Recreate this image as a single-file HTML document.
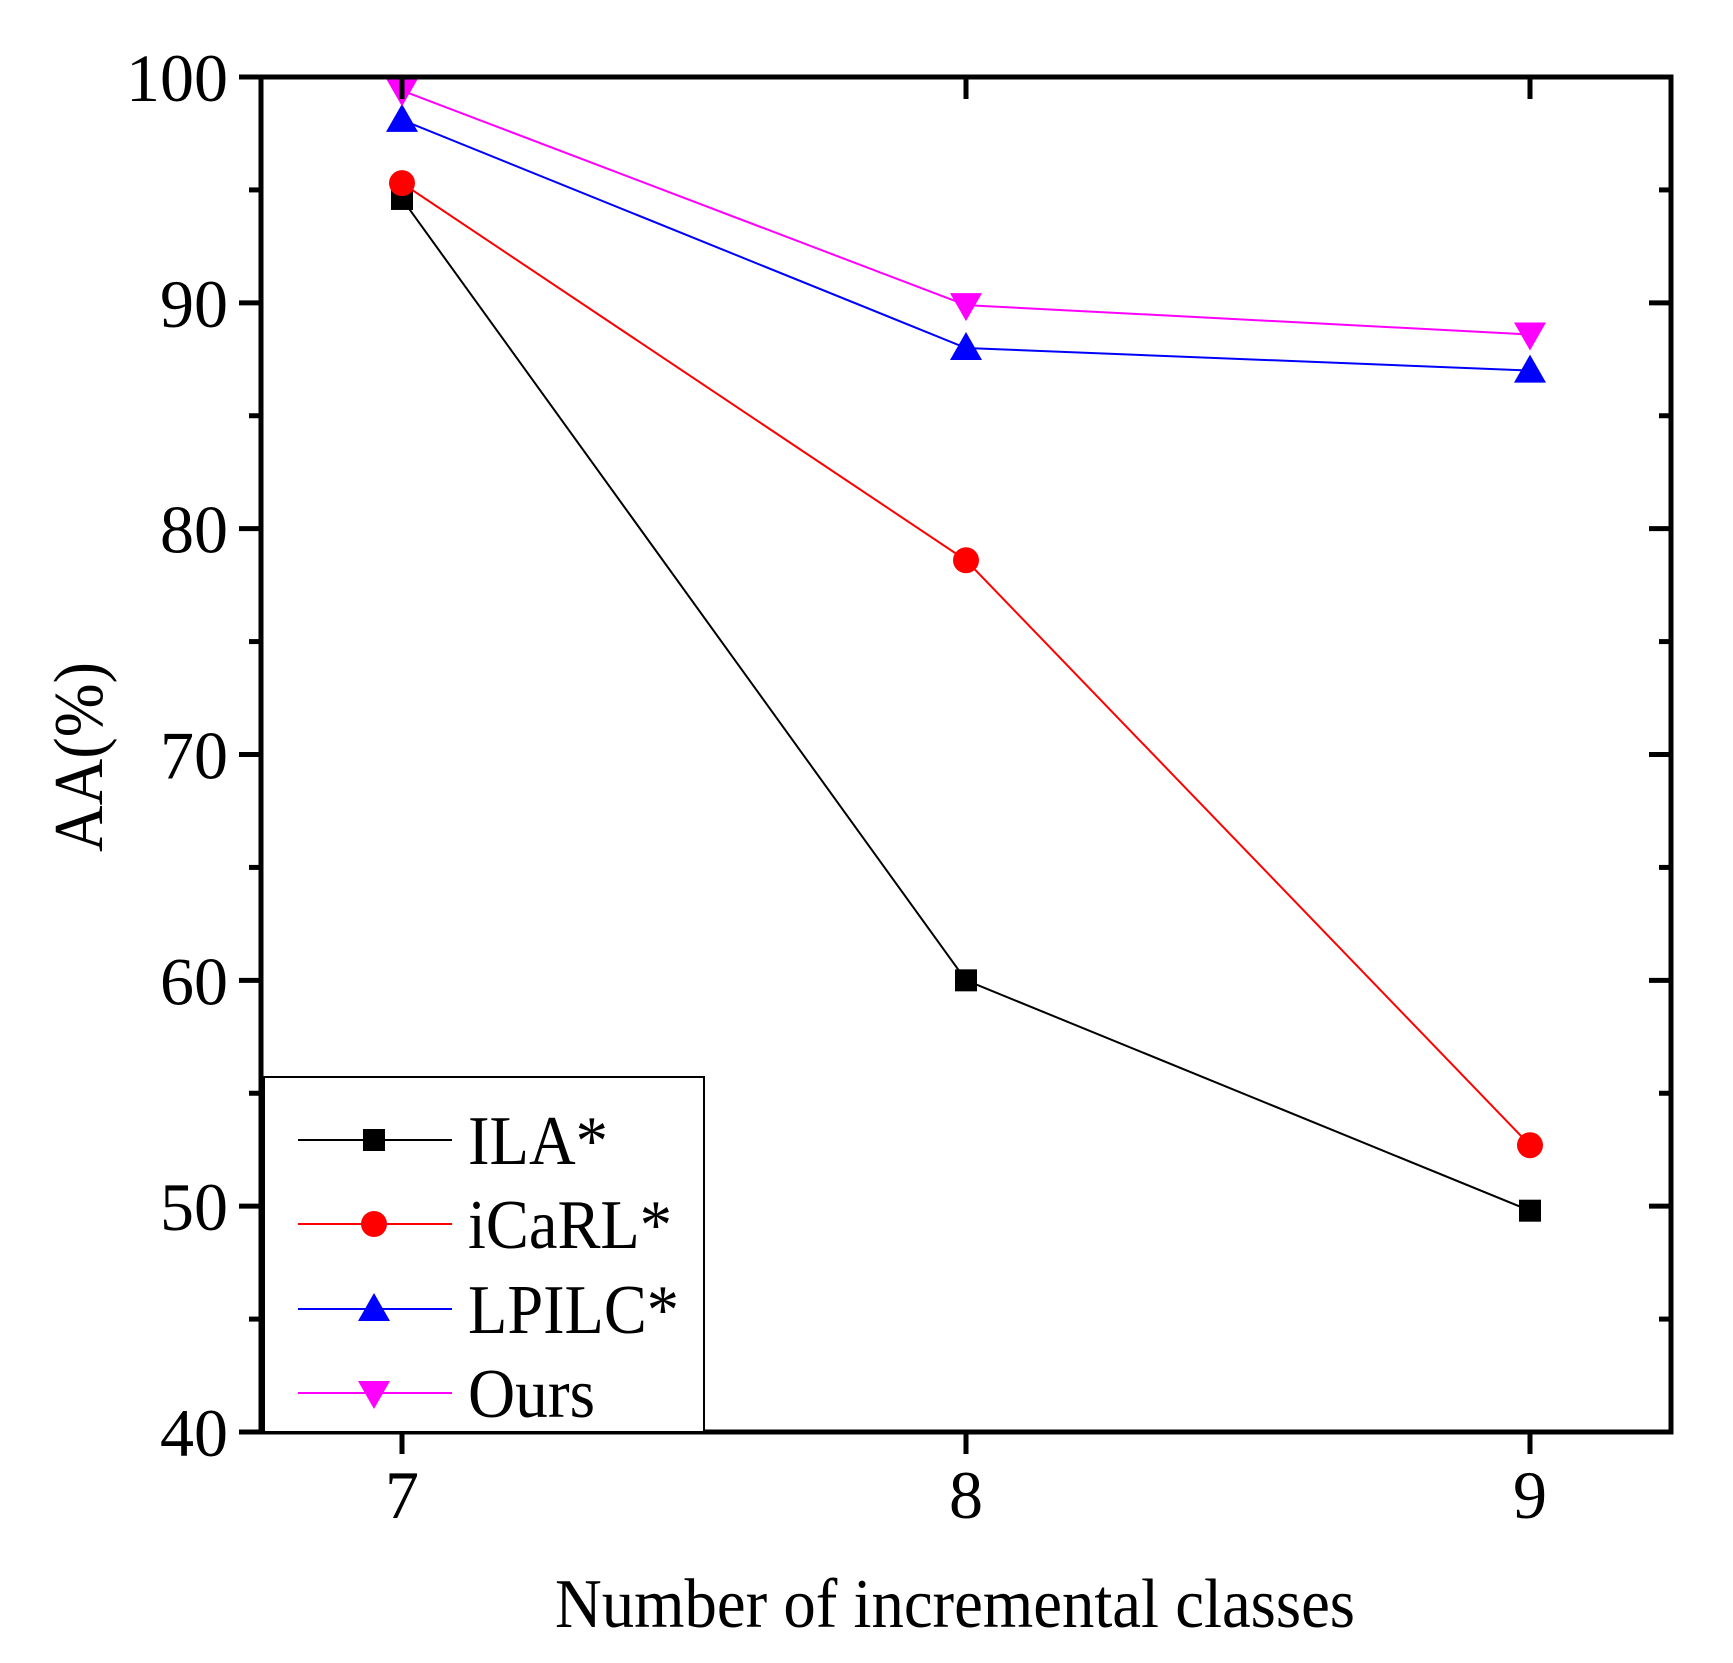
<!DOCTYPE html>
<html><head><meta charset="utf-8"><style>
html,body{margin:0;padding:0;background:#fff;}
svg{display:block;font-family:"Liberation Serif",serif;}
</style></head><body>
<svg id="chart" width="1733" height="1663" viewBox="0 0 1733 1663" xmlns="http://www.w3.org/2000/svg">
<g id="grid"></g>
<g id="series"></g>
<g id="frame"></g>
<g id="legend"></g>
</svg>
<script>
const categories = [7, 8, 9];
const ilaValues = [94.6, 60.0, 49.8];
const icarlValues = [95.3, 78.6, 52.7];
const lpilcValues = [98.1, 88.0, 87.0];
const oursValues = [99.4, 89.9, 88.6];
const yTicks = [40, 50, 60, 70, 80, 90, 100];
const yMinorTicks = [45, 55, 65, 75, 85, 95];
const seriesNames = ["ILA*", "iCaRL*", "LPILC*", "Ours"];

const NS = "http://www.w3.org/2000/svg";
const L = 261, R = 1671, T = 77, B = 1432;
const xScale = v => 402 + (v - 7) * 564;
const yScale = v => B - (v - 40) * (B - T) / 60;

function mk(parent, tag, attrs, text) {
  const e = document.createElementNS(NS, tag);
  for (const k in attrs) e.setAttribute(k, attrs[k]);
  if (text !== undefined) e.textContent = text;
  parent.appendChild(e);
  return e;
}
const frame = document.getElementById('frame');
const series = document.getElementById('series');
const legend = document.getElementById('legend');

let f = mk(frame, 'rect', {x: L, y: T, width: R - L, height: B - T, fill: 'none', stroke: '#000', 'stroke-width': 5});



yTicks.forEach(v => {
  const y = yScale(v);
  let t = mk(frame, 'line', {x1: L - 22, x2: L, y1: y, y2: y, stroke: '#000', 'stroke-width': 5});
  
  
  let t2 = mk(frame, 'line', {x1: R - 22, x2: R, y1: y, y2: y, stroke: '#000', 'stroke-width': 5});
  
  
  let lb = mk(frame, 'text', {x: 228, y: y + 24, 'font-size': 68, 'text-anchor': 'end'}, String(v));
  
  
});
yMinorTicks.forEach(v => {
  const y = yScale(v);
  let t = mk(frame, 'line', {x1: L - 12, x2: L, y1: y, y2: y, stroke: '#000', 'stroke-width': 5});
  
  
  let t2 = mk(frame, 'line', {x1: R - 12, x2: R, y1: y, y2: y, stroke: '#000', 'stroke-width': 5});
  
  
});
categories.forEach(c => {
  const x = xScale(c);
  let t = mk(frame, 'line', {x1: x, x2: x, y1: B, y2: B + 22, stroke: '#000', 'stroke-width': 5});
  
  
  let t2 = mk(frame, 'line', {x1: x, x2: x, y1: T, y2: T + 22, stroke: '#000', 'stroke-width': 5});
  
  
  let lb = mk(frame, 'text', {x: x, y: 1518, 'font-size': 68, 'text-anchor': 'middle'}, String(c));
  
  
});
let xt = mk(frame, 'text', {x: 955, y: 1627, 'font-size': 70, 'text-anchor': 'middle', textLength: 800, lengthAdjust: 'spacingAndGlyphs'}, 'Number of incremental classes');


let yt = mk(frame, 'text', {x: 0, y: 0, 'font-size': 70, 'text-anchor': 'middle', transform: 'translate(102,757) rotate(-90)', textLength: 190, lengthAdjust: 'spacingAndGlyphs'}, 'AA(%)');



function marker(g, type, x, y, color) {
  let e;
  if (type === 'square') e = mk(g, 'rect', {x: x - 11, y: y - 11, width: 22, height: 22, fill: color});
  else if (type === 'circle') e = mk(g, 'circle', {cx: x, cy: y, r: 13, fill: color});
  else if (type === 'up') e = mk(g, 'polygon', {points: `${x},${y-16} ${x-16},${y+12} ${x+16},${y+12}`, fill: color});
  else e = mk(g, 'polygon', {points: `${x},${y+16} ${x-16},${y-12} ${x+16},${y-12}`, fill: color});
  return e;
}

const allSeries = [
  {vals: ilaValues, color: '#000000', m: 'square', key: 'ila'},
  {vals: icarlValues, color: '#ff0000', m: 'circle', key: 'icarl'},
  {vals: lpilcValues, color: '#0000ff', m: 'up', key: 'lpilc'},
  {vals: oursValues, color: '#ff00ff', m: 'down', key: 'ours'}
];
allSeries.forEach((s, i) => {
  const g = mk(series, 'g', {});
  
  
  const pts = s.vals.map((v, j) => xScale(categories[j]) + ',' + yScale(v)).join(' ');
  let pl = mk(g, 'polyline', {points: pts, fill: 'none', stroke: s.color, 'stroke-width': 2});
  
  
  s.vals.forEach((v, j) => {
    const m = marker(g, s.m, xScale(categories[j]), yScale(v), s.color);
    
    
  });
});

let lbx = mk(legend, 'rect', {x: 264, y: 1077, width: 440, height: 355, fill: '#fff', stroke: '#000', 'stroke-width': 2});


const rowsY = [1140, 1224, 1309, 1393];
const legendTextLen = [140, 204, 211, 127];
allSeries.forEach((s, i) => {
  const g = mk(legend, 'g', {});
  
  
  const y = rowsY[i];
  mk(g, 'line', {x1: 298, x2: 452, y1: y, y2: y, stroke: s.color, 'stroke-width': 2});
  marker(g, s.m, 374, y, s.color);
  mk(g, 'text', {x: 468, y: y + 24, 'font-size': 70, textLength: legendTextLen[i], lengthAdjust: 'spacingAndGlyphs'}, seriesNames[i]);
});
</script>
</body></html>
